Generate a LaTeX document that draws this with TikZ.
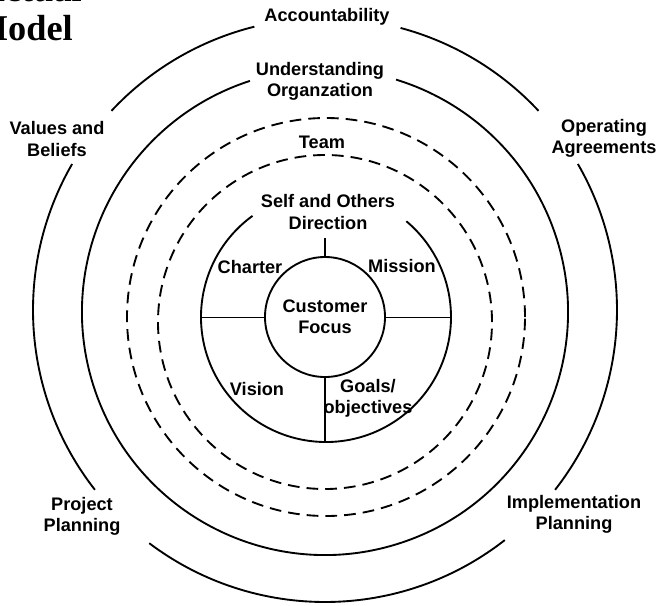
\documentclass[tikz,border=0pt]{standalone}
\usepackage{fontspec}
\setmainfont{Liberation Sans}
\newfontfamily\titlefont{Liberation Serif}
\usetikzlibrary{positioning}

\tikzset{
  ring/.style={line width=1.6pt},
  dashring/.style={line width=1.6pt, dash pattern=on 10pt off 6pt},
  spoke/.style={line width=0.8pt},
  stem/.style={line width=1.3pt},
  lbl/.style={font=\fontsize{15.5}{18}\selectfont\bfseries, align=center, inner sep=1pt},
  ttl/.style={font=\titlefont\fontsize{31}{34}\selectfont\bfseries, anchor=base east, inner sep=0pt}
}

\begin{document}
\begin{tikzpicture}[x=0.03cm, y=0.03cm]
    \useasboundingbox (-325,-289) rectangle (332,316);

    % Title, cut off by the page edge
    \node[ttl] (ttlA) at (-243,315) {Contractual};
    \node[ttl] (ttlB) at (-252,276) {Model};

    % Outer ring
    \draw[ring] (0,6) ++(104:292) arc[start angle=104, end angle=137, radius=292];
    \draw[ring] (0,6) ++(43:292) arc[start angle=43, end angle=75, radius=292];
    \draw[ring] (0,6) ++(-38:292) arc[start angle=-38, end angle=30, radius=292];
    \draw[ring] (0,6) ++(-127:292) arc[start angle=-127, end angle=-52, radius=292];
    \draw[ring] (0,6) ++(150:292) arc[start angle=150, end angle=218, radius=292];

    % Organization ring
    \draw[ring] (0,4) ++(108:243) arc[start angle=108, end angle=433, radius=243];

    % Team rings
    \draw[dashring] (1,-1) circle[radius=199];
    \draw[dashring] (0,-6) circle[radius=167];

    % Direction ring
    \draw[ring] (1,-1) ++(126:125) arc[start angle=126, end angle=410, radius=125];

    % Centre
    \node[lbl, draw, circle, ring, minimum size=3.6cm, inner sep=0pt] (focus) at (0,-1) {Customer\\Focus};
    \coordinate (dirW) at (-124,-1);
    \coordinate (dirE) at (126,-1);
    \coordinate (dirS) at (0,-126);
    \coordinate (tick) at (0,78);
    \draw[spoke] (focus.west) -- (dirW);
    \draw[spoke] (focus.east) -- (dirE);
    \draw[stem] (focus.north) -- (tick);
    \draw[stem] (focus.south) -- (dirS);

    % Quarter labels
    \node[lbl] (charter) at (-75,49) {Charter};
    \node[lbl] (mission) at (77,50) {Mission};
    \node[lbl] (vision) at (-68,-73) {Vision};
    \node[lbl] (goals) at (43,-82) {Goals/\\objectives};

    % Ring labels
    \node[lbl] (dir) at (3,104) {Self and Others\\Direction};
    \node[lbl] (team) at (-3,174) {Team};
    \node[lbl] (org) at (-5,235) {Understanding\\Organzation};
    \node[lbl] (acc) at (2,299) {Accountability};

    % Outer labels
    \node[lbl] (values) at (-268,177) {Values and\\Beliefs};
    \node[lbl] (operating) at (279,178) {Operating\\Agreements};
    \node[lbl] (project) at (-243,-200) {Project\\Planning};
    \node[lbl] (implement) at (249,-198) {Implementation\\Planning};
\end{tikzpicture}
\end{document}
